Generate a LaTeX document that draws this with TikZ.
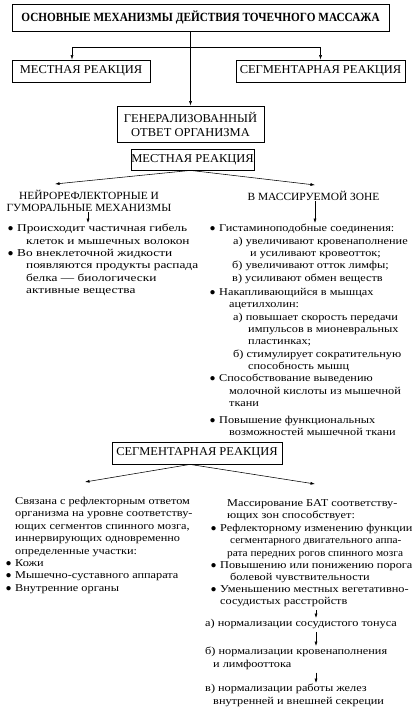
\documentclass[tikz,border=0pt]{standalone}
\usepackage{fontspec}
\setmainfont{Liberation Serif}
\newfontfamily\bodyf[FakeStretch=1.17]{Liberation Serif}
\newfontfamily\bodyw[FakeStretch=1.27]{Liberation Serif}
\newfontfamily\bodyn[FakeStretch=1.08]{Liberation Serif}
\newfontfamily\capf[FakeStretch=1.04]{Liberation Serif}
\newfontfamily\titlef[FakeStretch=0.9]{Liberation Serif}
\usetikzlibrary{arrows.meta}
\newcommand{\bul}{\llap{{\normalfont\fontsize{10}{10}\selectfont ●}\hspace{3.5pt}}}
\begin{document}
\begin{tikzpicture}[x=1pt,y=-1pt,
  box/.style={draw, line width=0.8pt, inner sep=0pt, align=center, font=\capf\fontsize{12}{14}\selectfont},
  arr/.style={-{Latex[length=4.5pt,width=3pt]}, line width=0.55pt},
  body/.style={inner sep=0pt, anchor=north west, align=left, font=\bodyf\fontsize{10.5}{12.4}\selectfont},
  head/.style={inner sep=0pt, align=center, font=\capf\fontsize{11}{12.4}\selectfont}]
\useasboundingbox (0,0) rectangle (413,707);
\fill[white] (0,0) rectangle (413,707);

\node[box, minimum width=377pt, minimum height=27pt, font=\titlef\bfseries\fontsize{12.5}{14}\selectfont] (title) at (200.5,17.5) {ОСНОВНЫЕ МЕХАНИЗМЫ ДЕЙСТВИЯ ТОЧЕЧНОГО МАССАЖА};
\node[box, minimum width=138pt, minimum height=22pt] (loc) at (81,71) {МЕСТНАЯ РЕАКЦИЯ};
\node[box, minimum width=169pt, minimum height=22pt] (seg) at (320.5,71) {СЕГМЕНТАРНАЯ РЕАКЦИЯ};
\node[box, minimum width=147pt, minimum height=36pt] (gen) at (190.5,124) {ГЕНЕРАЛИЗОВАННЫЙ\\ОТВЕТ ОРГАНИЗМА};
\coordinate (j) at (190.5,47);
\coordinate (jl) at (72,47);
\draw[arr] (title.south -| gen.north) -- (gen.north);
\draw[arr] (j) -- (jl) -- (jl |- loc.north);
\draw[arr] (j) -| (seg.north);

\node[box, minimum width=123pt, minimum height=21pt] (loc2) at (192.5,159.5) {МЕСТНАЯ РЕАКЦИЯ};
\node[head] (neuro) at (89,201) {НЕЙРОРЕФЛЕКТОРНЫЕ И\\ГУМОРАЛЬНЫЕ МЕХАНИЗМЫ};
\node[head] (mass) at (313.5,196) {В МАССИРУЕМОЙ ЗОНЕ};
\coordinate (lt) at (55,184);
\coordinate (rt) at (315,185);
\draw[arr] ([xshift=-2pt]loc2.south) -- (lt);
\draw[arr] ([xshift=-2pt]loc2.south) -- (rt);

\node[body, font=\bodyw\fontsize{10.5}{12.4}\selectfont] (lb) at (17,224) {\bul Происходит частичная гибель\\\hspace*{9pt}клеток и мышечных волокон\\\bul Во внеклеточной жидкости\\\hspace*{9pt}появляются продукты распада\\\hspace*{9pt}белка — биологически\\\hspace*{9pt}активные вещества};
\coordinate (ax1) at (88,0);
\draw[arr] (neuro.south -| ax1) -- ([yshift=1pt]lb.north -| ax1);

\node[body] (r1) at (219,224) {\bul Гистаминоподобные соединения:\\\hspace*{14pt}а) увеличивают кровенаполнение\\\hspace*{31pt}и усиливают кровеотток;\\\hspace*{13pt}б) увеличивают отток лимфы;\\\hspace*{13pt}в) усиливают обмен веществ};
\node[body] (r2) at (219,288) {\bul Накапливающийся в мышцах\\\hspace*{10pt}ацетилхолин:\\\hspace*{14pt}а) повышает скорость передачи\\\hspace*{29pt}импульсов в мионевральных\\\hspace*{29pt}пластинках;\\\hspace*{14pt}б) стимулирует сократительную\\\hspace*{29pt}способность мышц};
\node[body] (r3) at (219,374) {\bul Способствование выведению\\\hspace*{10pt}молочной кислоты из мышечной\\\hspace*{10pt}ткани};
\node[body] (r4) at (219,416) {\bul Повышение функциональных\\\hspace*{10pt}возможностей мышечной ткани};
\coordinate (ax2) at (315,0);
\draw[arr] (mass.south -| ax2) -- ([yshift=1pt]r1.north -| ax2);

\node[box, minimum width=170pt, minimum height=22pt] (seg2) at (197,453) {СЕГМЕНТАРНАЯ РЕАКЦИЯ};
\coordinate (lt2) at (85,482);
\coordinate (rt2) at (315,484);
\draw[arr] ([xshift=-7pt]seg2.south) -- (lt2);
\draw[arr] ([xshift=-7pt]seg2.south) -- (rt2);

\node[body] (sl) at (15,497) {Связана с рефлекторным ответом\\организма на уровне соответству-\\ющих сегментов спинного мозга,\\иннервирующих одновременно\\определенные участки:\\\bul Кожи\\\bul Мышечно-суставного аппарата\\\bul Внутренние органы};

\node[body] (s1) at (227,499) {Массирование БАТ соответству-\\ющих зон способствует:};
\node[body] (s2) at (220,524) {\bul Рефлекторному изменению функции\\\hspace*{10pt}{\bodyn сегментарного двигательного аппа-}\\\hspace*{7pt}{\bodyn рата передних рогов спинного мозга}};
\node[body] (s3) at (220,561) {\bul Повышению или понижению порога\\\hspace*{10pt}болевой чувствительности};
\node[body] (s4) at (220,585) {\bul Уменьшению местных вегетативно-\\сосудистых расстройств};
\node[body] (na) at (205,619) {а) нормализации сосудистого тонуса};
\node[body] (nb) at (205,647) {б) нормализации кровенаполнения\\\hspace*{8pt}и лимфооттока};
\node[body] (nc) at (205,684) {в) нормализации работы желез\\\hspace*{8pt}внутренней и внешней секреции};
\coordinate (ax3) at (316,0);
\draw[arr] ([yshift=-3pt]s4.south -| ax3) -- ([yshift=1pt]na.north -| ax3);
\draw[arr] ([yshift=-3pt]na.south -| ax3) -- ([yshift=1pt]nb.north -| ax3);
\draw[arr] ([yshift=-3pt]nb.south -| ax3) -- ([yshift=1pt]nc.north -| ax3);
\end{tikzpicture}
\end{document}
